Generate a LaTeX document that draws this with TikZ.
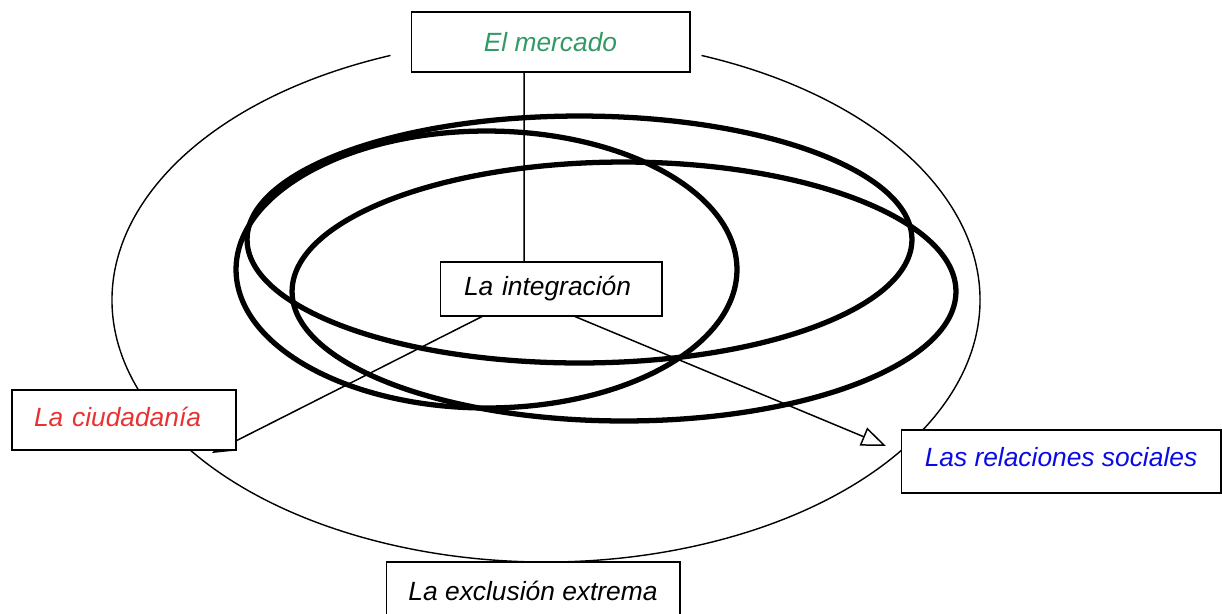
\documentclass[tikz,border=0pt]{standalone}
\usepackage{fontspec}
\setmainfont{Liberation Sans}
\usepackage{xcolor}
\usepackage{tikz}
\usetikzlibrary{arrows.meta}
\definecolor{mercadogreen}{HTML}{339966}
\definecolor{ciudadred}{HTML}{E83232}
\definecolor{relblue}{HTML}{0A0AE6}

\begin{document}
\begin{tikzpicture}[x=0.02cm,y=0.02cm,
    box/.style={draw,rectangle,fill=white,line width=0.6pt,font=\fontsize{15}{18}\selectfont\itshape},
    ring/.style={line width=3pt},
    link/.style={line width=0.85pt}]
    \useasboundingbox (0,0) rectangle (1222,-613);

    % outer ring, open under the top box
    \draw[line width=0.8pt] (546,-300) ++(111:8.68cm and 5.24cm)
        arc[start angle=111,end angle=429,x radius=8.68cm,y radius=5.24cm];

    % the three thick rings
    \draw[ring] (579.5,-239.5) ellipse [x radius=6.65cm,y radius=2.47cm];
    \draw[ring] (486.5,-269.5) ellipse [x radius=5.01cm,y radius=2.77cm];
    \draw[ring] (624,-291.5) ellipse [x radius=6.64cm,y radius=2.59cm];

    \node[box,text=mercadogreen,minimum width=5.58cm,minimum height=1.2cm] (mercado) at (550.5,-42) {El mercado};
    \node[box,minimum width=4.44cm,minimum height=1.08cm,inner xsep=0.48cm,text width=3.48cm,align=left] (integracion) at (551,-289) {La integración};
    \draw[link] ([xshift=-0.53cm]mercado.south) -- ([xshift=-0.54cm]integracion.north);

    % arrows out of the centre
    \coordinate (ctip) at (212,-453);
    \coordinate (rtip) at (886,-446);
    \draw[link,-{Triangle[length=12pt,width=9pt]}] ([xshift=-1.38cm]integracion.south) -- (ctip);
    \draw[link,-{Triangle[open,length=14pt,width=11pt]}] ([xshift=0.48cm]integracion.south) -- (rtip);

    \node[box,text=ciudadred,minimum width=4.48cm,minimum height=1.2cm,text depth=3.4pt,
        inner xsep=0.44cm,text width=3.6cm,align=left] (ciudadania) at (124,-420) {La ciudadanía};
    \node[box,text=relblue,minimum width=6.4cm,minimum height=1.26cm,text depth=5.6pt] (relaciones) at (1061,-461.5) {Las relaciones sociales};
    \node[box,minimum width=5.88cm,minimum height=1.16cm] (exclusion) at (533,-591) {La exclusión extrema};
\end{tikzpicture}
\end{document}
